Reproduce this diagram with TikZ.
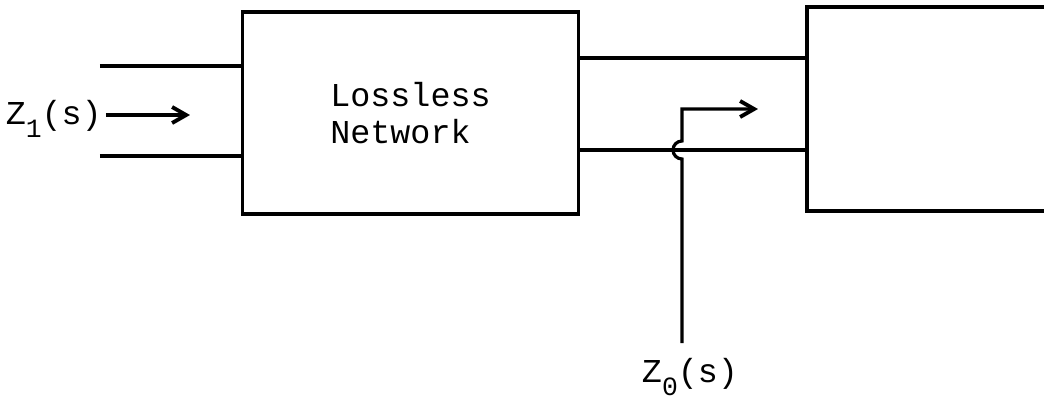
\documentclass[tikz,border=0pt]{standalone}
\usepackage{fontspec}
\setmonofont{Liberation Mono}
\usetikzlibrary{arrows.meta,positioning,calc}
\tikzset{
  netbox/.style={draw, line width=0.9pt, inner sep=0pt},
  wire/.style={line width=0.9pt},
  sigarrow/.style={-{Straight Barb[length=1.4mm,width=1.6mm,line width=1.1pt]}, line width=0.9pt},
  sigtext/.style={font=\ttfamily\fontsize{9.5}{10.5}\selectfont, inner sep=1pt}
}
\newcommand{\lowsub}[1]{\raisebox{-0.75ex}{\fontsize{7.5}{7.5}\selectfont #1}}

\begin{document}
\begin{tikzpicture}[x=0.01cm, y=0.01cm]
    \useasboundingbox (0,0) rectangle (1044,402);
    \clip (0,0) rectangle (1044,402);

    % blocks
    \node[netbox, sigtext, align=left, minimum width=3.35cm, minimum height=2.02cm] (net) at (410.5,289)
      {Lossless\\Network};
    \node[netbox, minimum width=2.63cm, minimum height=2.04cm] (load) at (938.5,293) {};

    % input pair
    \coordinate (inA) at (100,336);
    \coordinate (inB) at (100,246);
    \draw[wire] (inA) -- (inA -| net.west);
    \draw[wire] (inB) -- (inB -| net.west);

    % output pair
    \coordinate (outA) at (700,344);
    \coordinate (outB) at (700,252);
    \draw[wire] (net.east |- outA) -- (load.west |- outA);
    \draw[wire] (net.east |- outB) -- (load.west |- outB);

    % impedance labels
    \node[sigtext, anchor=base east] (zin) at (106,278)
      {Z\lowsub{1}(s)};
    \coordinate (zinend) at (190,287);
    \draw[sigarrow] (zin.east |- zinend) -- (zinend);

    \node[sigtext, anchor=base] (zout) at (690,20)
      {Z\lowsub{0}(s)};
    \coordinate (tapbot) at (682,59);
    \coordinate (tapup) at (682,293);
    \coordinate (tapend) at (758,293);
    \draw[sigarrow] (tapbot) -- ($(tapbot |- outB)+(0,-9)$)
      arc[start angle=270, end angle=90, radius=9] -- (tapup) -- (tapend);
\end{tikzpicture}
\end{document}
